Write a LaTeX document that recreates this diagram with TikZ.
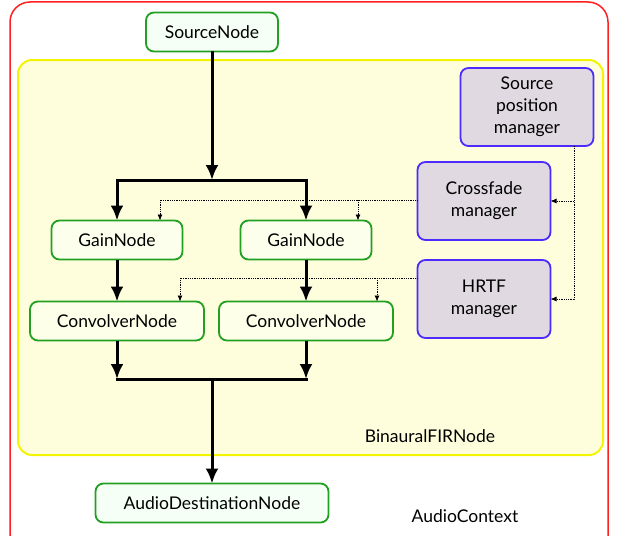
\documentclass[tikz,border=0pt]{standalone}
\usepackage{fontspec}
\setmainfont{Lato}
\usepackage{tikz}
\usetikzlibrary{arrows.meta}
\usepackage{xcolor}
\definecolor{ctxred}{HTML}{FF2020}
\definecolor{firyellow}{HTML}{F4F400}
\definecolor{firfill}{HTML}{FEFEDC}
\definecolor{nodegreen}{HTML}{22A022}
\definecolor{mgrblue}{HTML}{4B2BFF}
\definecolor{mgrfill}{HTML}{E1D9E1}

\begin{document}
\begin{tikzpicture}[x=1pt, y=-1pt,
    every node/.style={font=\fontsize{17.5}{22}\selectfont, inner sep=0pt, outer sep=0pt, align=center},
    audionode/.style={draw=nodegreen, line width=1.8pt, rounded corners=8pt, minimum height=39pt},
    manager/.style={draw=mgrblue, fill=mgrfill, line width=1.8pt, rounded corners=8pt, minimum width=133pt, minimum height=78pt},
    flow/.style={line width=3pt, -{Latex[length=15pt,width=13pt]}},
    ctl/.style={densely dotted, line width=0.8pt, -{Latex[length=6pt,width=5pt]}}]
    \useasboundingbox (0,0) rectangle (620,535);

    % Containers
    \draw[ctxred, line width=1.5pt, rounded corners=20pt] (10,2) rectangle (608,560);
    \draw[firyellow, fill=firfill, line width=2pt, rounded corners=14pt] (18,60) rectangle (603,455);
    \node (fir) at (430,436) {BinauralFIRNode};
    \node (ctx) at (465,516) {AudioContext};

    % Audio graph
    \node[audionode, fill=green!4, minimum width=132pt] (src) at (212,32) {SourceNode};
    \node[audionode, fill=green!9!yellow!7, minimum width=131pt] (gain1) at (117,240) {GainNode};
    \node[audionode, fill=green!9!yellow!7, minimum width=131pt] (gain2) at (306,240) {GainNode};
    \node[audionode, fill=green!9!yellow!9, minimum width=174pt] (conv1) at (117,321) {ConvolverNode};
    \node[audionode, fill=green!9!yellow!9, minimum width=174pt] (conv2) at (306,321) {ConvolverNode};
    \node[audionode, fill=green!4, minimum width=233pt] (dest) at (212,503) {AudioDestinationNode};

    % Managers
    \node[manager] (spm) at (527,107) {Source\\position\\manager};
    \node[manager] (xfade) at (484,201) {Crossfade\\manager};
    \node[manager] (hrtf) at (484,299) {HRTF\\manager};

    % Signal flow
    \coordinate (split) at (212,180);
    \coordinate (merge) at (212,379);
    \draw[flow] (src) -- (split);
    \draw[flow] (split) -| (gain1.north);
    \draw[flow] (split) -| (gain2.north);
    \draw[flow] (gain1) -- (conv1);
    \draw[flow] (gain2) -- (conv2);
    \draw[flow] (conv1) -- (conv1 |- merge);
    \draw[flow] (conv2) -- (conv2 |- merge);
    \draw[line width=3pt, line cap=rect] (conv1 |- merge) -- (conv2 |- merge);
    \draw[flow] (merge) -- (dest);

    % Control lines
    \coordinate (xtap1) at (160,200);
    \coordinate (xtap2) at (358,200);
    \coordinate (htap1) at (180,278);
    \coordinate (htap2) at (377,278);
    \coordinate (sbus) at (574,201);
    \draw[ctl] (xfade.west |- xtap1) -| (gain1.north -| xtap1);
    \draw[ctl] (xtap2) -- (gain2.north -| xtap2);
    \draw[ctl] (hrtf.west |- htap1) -| (conv1.north -| htap1);
    \draw[ctl] (htap2) -- (conv2.north -| htap2);
    \draw[ctl] (spm.south -| sbus) |- (hrtf.east);
    \draw[ctl] (sbus) -- (xfade.east);

\end{tikzpicture}
\end{document}
